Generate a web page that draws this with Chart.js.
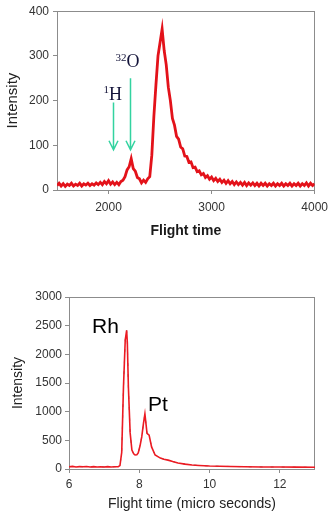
<!DOCTYPE html>
<html><head><meta charset="utf-8">
<script src="https://cdn.jsdelivr.net/npm/chart.js@4/dist/chart.umd.min.js"></script>
<style>
html,body{margin:0;padding:0;background:#fff;width:334px;height:520px;overflow:hidden}
#c1{position:absolute;left:0;top:0}
#c2{position:absolute;left:0;top:260px}
</style></head><body>
<canvas id="c1" width="334" height="250"></canvas>
<canvas id="c2" width="334" height="260"></canvas>
<script>
// ---------- Top chart data ----------
const topTimes = [1500,1520,1540,1560,1580,1600,1620,1640,1660,1680,1700,1720,1740,1760,1780,1800,1820,1840,1860,1880,
  1900,1920,1940,1960,1980,2000,2020,2040,2060,2080,2100,2120,2140,2160,2180,2200,2220,2240,2260,2280,
  2300,2320,2340,2360,2380,2400,2420,2440,2460,2480,2500,2520,2540,2560,2580,2600,2620,2640,2660,2680,
  2700,2720,2740,2760,2780,2800,2820,2840,2860,2880,2900,2920,2940,2960,2980,3000,3020,3040,3060,3080,
  3100,3120,3140,3160,3180,3200,3220,3240,3260,3280,3300,3320,3340,3360,3380,3400,3420,3440,3460,3480,
  3500,3520,3540,3560,3580,3600,3620,3640,3660,3680,3700,3720,3740,3760,3780,3800,3820,3840,3860,3880,
  3900,3920,3940,3960,3980,4000];
const topIntensity = [10,15,9,14,8,13,10,15,9,13,10,15,9,14,11,15,10,14,11,16,
  12,17,12,19,14,21,13,18,12,17,12,19,22,30,45,52,70,48,42,28,
  25,16,22,17,25,30,78,165,235,300,330,360,312,280,230,200,160,145,120,114,
  96,92,76,75,62,63,50,51,41,43,34,37,28,32,24,29,21,26,19,24,
  17,22,15,21,14,19,12,18,12,17,11,17,10,16,11,16,10,15,9,15,
  10,15,9,14,10,15,9,14,10,15,9,14,10,15,9,14,10,15,9,14,
  10,16,9,15,10,14];
const topXTicks = [2000,3000,4000];
const topYTicks = [0,100,200,300,400];
const topLabels = [
  {sup:'32', text:'O', x:2067, y:275},
  {sup:'1', text:'H', x:1952, y:202}
];
const topArrows = [
  {x:2209, from:250, to:90},
  {x:2048, from:196, to:90}
];

// ---------- Bottom chart data ----------
const bottomTimes = [6.0,6.1,6.2,6.3,6.4,6.5,6.6,6.7,6.8,6.9,7.0,7.1,7.2,7.3,7.4,7.45,7.5,7.55,7.6,7.64,
  7.66,7.69,7.74,7.79,7.84,7.88,7.93,7.97,8.02,8.07,8.12,8.16,8.22,8.28,8.35,8.45,8.6,8.7,8.82,8.95,
  9.1,9.3,9.5,9.7,10.0,10.3,10.6,11.0,11.5,12.0,12.5,13.0];
const bottomIntensity = [40,45,35,42,38,44,36,41,34,40,36,42,35,38,40,60,290,1430,2250,2420,
  2200,1430,630,330,265,245,250,280,400,560,800,960,620,590,385,245,190,170,155,130,
  105,85,70,62,52,48,44,40,36,34,32,30];
const bottomXTicks = [6,8,10,12];
const bottomYTicks = [0,500,1000,1500,2000,2500,3000];
const bottomLabels = [
  {sup:'', text:'Rh', x:6.655, y:2372},
  {sup:'', text:'Pt', x:8.248, y:1012}
];

// ---------- helpers ----------
const SANS = "'Liberation Sans', Arial, sans-serif";
const SERIF = "'Liberation Serif', 'Times New Roman', serif";
const frameColor = '#8c8c8c';

const framePlugin = {
  id: 'frame',
  beforeDatasetsDraw(chart) {
    const {ctx, chartArea: a} = chart;
    ctx.save();
    ctx.strokeStyle = frameColor;
    ctx.lineWidth = 1;
    ctx.strokeRect(Math.round(a.left) + 0.5, Math.round(a.top) + 0.5,
      Math.round(a.right - a.left) - 1, Math.round(a.bottom - a.top));
    ctx.restore();
  }
};

function makeAnnot(labels, arrows, mainFont, supFont, color, supRaise) {
  return {
    id: 'annot',
    afterDatasetsDraw(chart) {
      const {ctx, scales: {x, y}} = chart;
      ctx.save();
      ctx.textBaseline = 'alphabetic';
      ctx.textAlign = 'left';
      ctx.fillStyle = color;
      labels.forEach(l => {
        let px = x.getPixelForValue(l.x);
        const py = y.getPixelForValue(l.y);
        if (l.sup) {
          ctx.font = supFont;
          ctx.fillText(l.sup, px, py - supRaise);
          px += ctx.measureText(l.sup).width;
        }
        ctx.font = mainFont;
        ctx.fillText(l.text, px, py);
      });
      ctx.strokeStyle = '#33d3a0';
      ctx.lineWidth = 1.5;
      arrows.forEach(a => {
        const px = Math.round(x.getPixelForValue(a.x)) + 0.5;
        const y1 = y.getPixelForValue(a.from);
        const y2 = y.getPixelForValue(a.to);
        ctx.beginPath();
        ctx.moveTo(px, y1); ctx.lineTo(px, y2);
        ctx.moveTo(px - 4.5, y2 - 9); ctx.lineTo(px, y2); ctx.lineTo(px + 4.5, y2 - 9);
        ctx.stroke();
      });
      ctx.restore();
    }
  };
}

function axisCommon(ticksArr, min, max, tickPad, fitFn, fontSize) {
  return {
    type: 'linear', min, max,
    afterBuildTicks: s => { s.ticks = ticksArr.map(v => ({value: v})); },
    afterFit: fitFn,
    grid: {drawOnChartArea: false, drawTicks: true, tickLength: 4, color: frameColor},
    border: {display: false},
    ticks: {padding: tickPad, color: '#333', font: {family: SANS, size: fontSize}, autoSkip: false, maxRotation: 0,
      callback: v => String(v)}
  };
}

// ---------- Top chart ----------
new Chart(document.getElementById('c1'), {
  type: 'line',
  data: {
    datasets: [{
      data: topTimes.map((t, i) => ({x: t, y: topIntensity[i]})),
      borderColor: '#e3121a', borderWidth: 2.8, pointRadius: 0, tension: 0, fill: false
    }]
  },
  options: {
    responsive: false, animation: false, devicePixelRatio: 1,
    layout: {padding: {left: 0, right: 17, top: 8, bottom: 0}},
    plugins: {legend: {display: false}, tooltip: {enabled: false}},
    scales: {
      x: Object.assign(axisCommon(topXTicks, 1500, 4000, 6, s => { s.height = 60; }, 12), {
        title: {display: true, text: 'Flight time', color: '#1a1a1a',
          font: {family: SANS, size: 14, weight: 'bold'}, padding: {top: 0, bottom: 10}}
      }),
      y: Object.assign(axisCommon(topYTicks, 0, 400, 4, s => { s.width = 57; }, 12), {
        title: {display: true, text: 'Intensity', color: '#222',
          font: {family: SANS, size: 15}, padding: {top: 4, bottom: 0}}
      })
    }
  },
  plugins: [framePlugin, makeAnnot(topLabels, topArrows, '18px ' + SERIF, '11px ' + SERIF, '#14143a', 6.5)]
});

// ---------- Bottom chart ----------
const bottomPoints = bottomTimes.map((t, i) => ({x: t, y: bottomIntensity[i]}));
new Chart(document.getElementById('c2'), {
  type: 'line',
  data: {
    datasets: [
      {data: bottomPoints, borderColor: '#ec1a22', borderWidth: 1.6, pointRadius: 0, tension: 0, fill: false},
      {data: bottomPoints, borderColor: '#7a7a7a', borderWidth: 1, borderDash: [3, 8], pointRadius: 0, tension: 0, fill: false}
    ]
  },
  options: {
    responsive: false, animation: false, devicePixelRatio: 1,
    layout: {padding: {left: 0, right: 19, top: 37, bottom: 0}},
    plugins: {legend: {display: false}, tooltip: {enabled: false}},
    scales: {
      x: Object.assign(axisCommon(bottomXTicks, 6, 13, 4, s => { s.height = 51; }, 12), {
        title: {display: true, text: 'Flight time (micro seconds)', color: '#222',
          font: {family: SANS, size: 14}, padding: {top: 0, bottom: 7}}
      }),
      y: Object.assign(axisCommon(bottomYTicks, 0, 3000, 3, s => { s.width = 69; }, 12), {
        title: {display: true, text: 'Intensity', color: '#222',
          font: {family: SANS, size: 14}, padding: {top: 10, bottom: 0}}
      })
    }
  },
  plugins: [framePlugin, makeAnnot(bottomLabels, [], '21px ' + SANS, '11px ' + SANS, '#000', 0)]
});
</script>
</body></html>
